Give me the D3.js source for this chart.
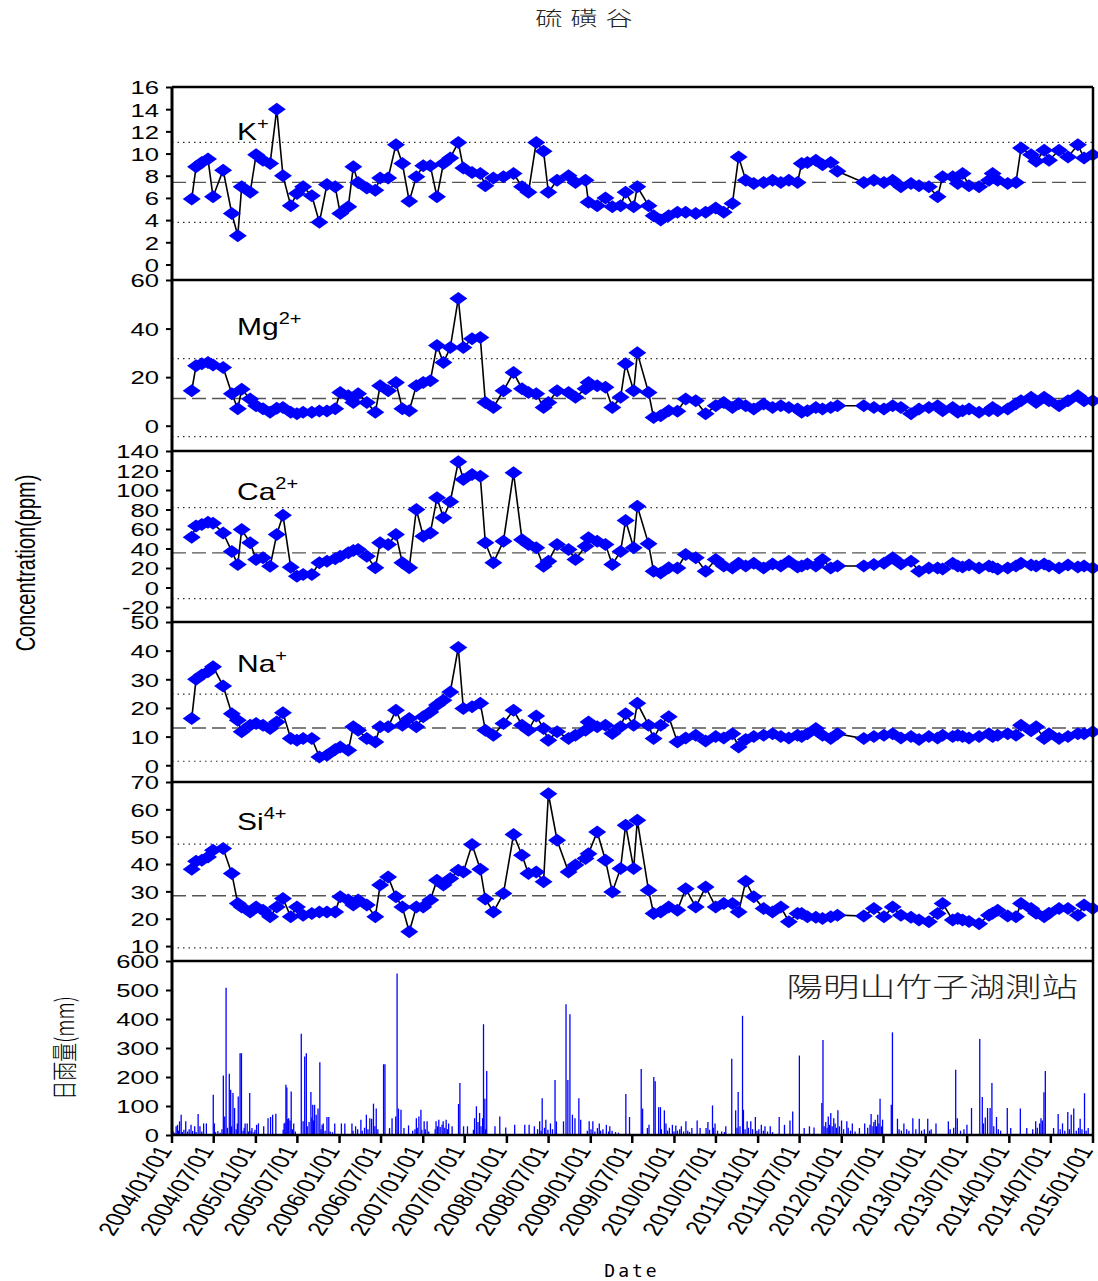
<!DOCTYPE html>
<html>
<head>
<meta charset="utf-8">
<script src="https://cdnjs.cloudflare.com/ajax/libs/d3/7.8.5/d3.min.js"></script>
<style>
  body { margin: 0; background: #fff; }
</style>
</head>
<body>
<div id="chart"></div>
<script>
// Sampling dates (same samples for every ion)
const sampleDates = [
  '2004-03-27','2004-04-15','2004-05-10','2004-06-06','2004-06-28','2004-08-11','2004-09-18','2004-10-14','2004-10-31','2004-12-07',
  '2005-01-02','2005-02-01','2005-03-04','2005-04-02','2005-04-29','2005-06-02','2005-06-29','2005-07-26','2005-09-02','2005-10-05',
  '2005-11-07','2005-12-13','2006-01-04','2006-02-08','2006-03-02','2006-03-23','2006-04-30','2006-06-06','2006-06-27','2006-08-01',
  '2006-09-04','2006-10-02','2006-11-01','2006-12-02','2007-01-01','2007-02-01','2007-03-02','2007-03-30','2007-04-29','2007-06-03',
  '2007-06-25','2007-08-02','2007-09-07','2007-09-29','2007-11-03','2007-12-17','2008-01-30','2008-03-07','2008-04-04','2008-05-08',
  '2008-06-09','2008-06-30','2008-08-07','2008-09-26','2008-10-26','2008-12-09','2008-12-22','2009-01-29','2009-03-06','2009-04-05',
  '2009-05-11','2009-06-02','2009-07-07','2009-07-23','2009-09-10','2009-10-02','2009-11-02','2009-12-07','2010-01-14','2010-02-19',
  '2010-04-04','2010-05-17','2010-06-30','2010-08-04','2010-09-11','2010-10-08','2010-11-08','2010-12-13','2011-01-25','2011-03-05',
  '2011-04-10','2011-05-15','2011-06-22','2011-07-10','2011-08-04','2011-09-10','2011-10-09','2011-11-14','2011-12-13','2012-04-06',
  '2012-05-20','2012-07-03','2012-08-10','2012-09-15','2012-10-29','2012-12-03','2013-01-15','2013-02-22','2013-03-16','2013-04-29',
  '2013-05-21','2013-06-11','2013-07-09','2013-08-22','2013-10-04','2013-10-20','2013-11-11','2013-12-25','2014-01-30','2014-02-21',
  '2014-04-06','2014-04-28','2014-06-02','2014-06-23','2014-08-06','2014-09-14','2014-10-27','2014-11-23','2014-12-31'
];

// Concentrations (ppm)
const potassium = [
  5.9,8.8,9.2,9.5,6.1,8.5,4.6,2.6,7.0,6.5, 9.9,9.4,9.1,14.0,8.0,5.3,6.4,7.0,6.2,3.8,
  7.2,7.0,4.6,5.2,8.8,7.4,6.9,6.7,7.8,7.8, 10.8,9.1,5.7,7.9,8.9,8.9,6.1,9.1,9.6,11.0,
  8.7,8.3,8.2,7.1,7.8,7.9,8.2,7.0,6.5,11.0, 10.2,6.5,7.6,8.0,7.4,7.6,5.6,5.3,6.0,5.2,
  5.3,6.5,5.2,7.0,5.3,4.4,4.0,4.4,4.7,4.7, 4.6,4.7,5.1,4.7,5.5,9.7,7.6,7.3,7.4,7.6,
  7.4,7.6,7.4,9.1,9.2,9.4,9.0,9.2,8.4,7.4, 7.6,7.4,7.6,7.0,7.3,7.1,7.0,6.1,7.9,7.9,
  7.3,8.2,7.1,7.0,7.6,8.2,7.6,7.3,7.4,10.5, 9.9,9.3,10.3,9.4,10.3,9.7,10.8,9.6,9.9
];
const magnesium = [
  14.4,24.7,25.5,26,25,24,13.2,7,15,11, 8.2,7,5.5,7.2,7.5,5.5,4.9,5.5,5.5,6.1,
  6.1,7,13.7,12.3,9.6,13.2,9.6,5.5,16.5,14.4, 17.8,7,6.2,16.5,17.8,18.5,33,26,32.2,52.4,
  32.2,35.8,36.3,9.6,7.5,14.4,21.9,15.2,13.7,13.2, 7.5,9.6,14.4,13.7,11.7,15.2,17.8,16.5,15.8,7.5,
  11.7,25.5,14.4,30,13.7,3.4,4.1,6.2,6.0,11, 10.3,4.9,8.2,9.6,7.5,9.0,8.2,6.9,8.9,7.5,
  8.2,7.5,6.9,5.5,6.2,7.5,6.9,7.5,8.2,8.2, 7.5,6.9,8.2,7.5,4.9,6.9,7.5,8.2,6.2,7.5,
  5.5,6.2,6.9,5.5,6.2,7.5,6.2,6.9,9.0,10.3, 11.7,9.6,11.7,10.3,8.2,10.3,12.3,10.3,10.3
];
const calcium = [
  51.6,63,64.6,67,66,56,37,23.6,59.5,45.8, 28.7,30.4,21.9,54.4,74.2,20.8,11.6,13.3,13.3,25.3,
  27,29.5,32,35.6,38,39,32,20.2,45.8,44, 54.4,25.3,20.2,80,52.6,56,92,71.5,88,129,
  110.8,116,114,45.8,25.3,47.5,117.6,49,44,40.7, 21.9,27,44,39,28.7,42.4,51,47.5,44,23.6,
  37,68.7,40.7,83.4,44.8,16.7,15,20.2,20,33.8, 30.4,16.7,28.7,22,20,25,22,25,20,24,
  22,27,21,22,24,22,28.7,20,22,22, 23.6,25,30.4,24,27,16.7,20,20,19,25,
  22,21,23,20,22,21,19,20,22,25, 23,22,24,22,20,23,21,22,20
];
const sodium = [
  16.3,30,31.5,32.6,34.4,27.7,18,15.7,11.7,14, 14.6,14,12.8,15.1,18.3,9.3,8.7,9.3,9.3,2.9,
  3.5,5.5,6.4,5.2,13.4,12.2,9.3,8.1,13.4,13.4, 19.2,14,16.3,13.4,16.9,18.6,21,22.7,25.6,41.1,
  19.8,20.4,21.6,12.2,10.5,14.6,19.2,14,12.2,17.2, 12.8,8.7,11.7,9.3,10.5,12.2,15.1,13.4,14,11.1,
  13.4,18,14,21.6,14,9.3,14,16.9,8.1,9.5, 10.5,8.5,10,9.5,11,6.4,9,10,10.5,11,
  10,9.5,10.5,10,11,12.8,10.5,9.3,11,9.3, 10,10.5,11,9.5,10,9,10,9.5,10.5,10,
  10.5,10,9.5,10,11,10,10.5,11,10.5,14, 12,13.4,9.3,11,9.3,10,11,11,11.7
];
const silicon = [
  38.1,41,41.4,42.6,45,45.7,36.5,25.6,24.3,22.5, 24.3,23.1,20.7,24.3,27.4,20.7,24.3,21.3,21.9,22.5,
  22.5,22.5,28,26.8,25,26.8,25,20.7,32.3,35.3, 28,24.3,15.2,24.3,24.3,26.8,34.1,32.3,34.7,37.7,
  37.1,47.1,38.1,27.2,22.5,29.2,50.8,43.2,36.5,37.1, 33.5,65.7,48.7,37.1,39.6,42,43.8,51.7,41.4,29.8,
  38.4,54.2,38.4,56,30.4,21.9,22.5,24.3,23.1,31, 24.3,31.6,24.3,25.6,25.6,22.5,33.7,28,23.7,22.5,
  24.3,18.9,21.9,21.9,20.7,20.5,20.1,20.7,21.3,21, 23.7,20.7,24.3,21.3,20.5,19.5,18.9,21.9,25.6,19.5,
  20.1,19.5,19,18.2,21.3,22,23.1,21,20.7,25.6, 23.7,22,20.7,22,23.7,23.7,21.3,25,23.7
];

// Reference lines per panel (K, Mg, Ca, Na, Si): mean (dashed), upper / lower (dotted)
const meanLines  = [7.4, 11.2, 35.5, 13.0, 28.4];
const upperLines = [11.0, 27.6, 82, 24.8, 47.3];
const lowerLines = [3.8, -4.5, -11.5, 1.4, 9.3];

// Axis ticks
const kTicks  = [0,2,4,6,8,10,12,14,16];
const mgTicks = [0,20,40,60];
const caTicks = [-20,0,20,40,60,80,100,120,140];
const naTicks = [0,10,20,30,40,50];
const siTicks = [10,20,30,40,50,60,70];
const rainTicks = [0,100,200,300,400,500,600];

// Daily rainfall at 陽明山竹子湖: [day since 2004-01-01, mm]
const rainfall = [
  [5,12],[12,8],[18,30],[24,35],[28,15],[33,47],[40,70],[45,10],[52,18],[60,47],[68,12],[75,20],[83,35],[90,14],[99,30],[105,10],[114,72],[122,30],[130,12],[138,40],[150,40],
  [180,139],[185,40],[190,10],[200,14],[210,8],[218,20],[224,205],[230,64],[236,508],[242,25],[250,211],[256,156],[260,30],[266,145],[273,93],[280,20],[285,40],[289,133],[297,282],[303,282],[310,15],[315,25],[319,40],[328,40],[333,12],[339,145],[345,15],[349,24],[358,10],[362,18],[369,35],[377,40],[400,30],[419,58],[430,62],[439,70],[453,73],
  [485,18],[489,40],[493,42],[497,173],[501,164],[505,55],[509,58],[515,50],[520,150],[525,20],[531,40],[538,12],[564,349],[572,47],[579,271],[586,282],[590,30],[598,45],[606,148],[610,60],[614,104],[618,50],[622,104],[629,70],[637,91],[645,251],[650,20],[655,35],[660,40],[668,15],[676,62],[684,62],[690,12],[700,10],[710,40],[739,40],[754,40],[785,40],[790,15],[801,30],[810,20],[824,53],[830,15],[840,25],[848,70],[855,20],[863,58],[871,56],[879,108],[885,30],[891,91],[898,20],[923,244],[929,244],[949,24],[960,58],[976,64],[982,557],[988,91],[999,87],[1012,24],[1032,33],
  [1050,15],[1060,20],[1066,58],[1070,25],[1077,64],[1086,87],[1090,18],[1100,47],[1105,20],[1113,47],[1120,12],[1148,20],[1152,47],[1158,30],[1164,53],[1170,28],[1178,35],[1183,47],[1190,25],[1196,53],[1202,20],[1207,40],[1222,30],[1250,107],[1256,179],[1272,30],[1289,30],[1315,18],[1320,58],[1328,99],[1335,45],[1342,76],[1348,30],[1355,58],[1359,382],[1365,125],[1368,20],[1373,221],[1409,30],[1430,64],[1456,26],[1495,35],[1539,35],[1558,35],[1581,30],[1595,20],[1604,47],[1610,15],[1615,127],[1625,25],[1631,53],[1640,18],[1651,40],[1660,20],[1671,190],[1677,47],[1708,47],[1719,451],[1727,190],[1736,416],[1747,70],[1758,58],[1775,127],[1783,53],
  [1812,15],[1820,47],[1828,20],[1836,47],[1845,12],[1856,24],[1864,40],[1870,15],[1880,20],[1895,35],[1905,12],[1910,30],[1920,15],[1935,10],[1948,8],[1980,141],[1996,62],[2047,228],[2053,91],[2074,24],[2081,35],[2102,200],[2108,185],[2123,96],[2131,96],[2135,20],[2148,85],[2155,40],[2162,15],[2170,25],[2183,35],[2190,12],[2198,33],[2205,15],[2215,20],[2222,30],[2232,12],[2242,47],[2250,15],[2258,10],[2268,24],[2291,50],[2304,24],[2330,24],[2338,45],[2345,18],[2358,102],[2362,25],[2369,40],[2380,15],[2398,12],[2410,10],[2416,30],
  [2442,263],[2459,85],[2465,25],[2470,148],[2478,30],[2489,411],[2493,87],[2500,20],[2509,47],[2515,25],[2525,47],[2533,20],[2545,62],[2552,15],[2560,20],[2571,35],[2580,15],[2587,30],[2598,12],[2610,30],[2620,10],[2649,62],[2672,35],[2696,50],[2708,81],[2737,274],[2758,24],[2781,30],[2801,26],[2835,110],[2840,328],[2845,30],[2852,45],[2858,25],[2863,64],[2868,35],[2874,76],[2880,30],[2887,58],[2893,40],[2899,25],[2905,85],[2912,30],[2921,50],[2930,20],[2944,47],[2950,25],[2960,15],[2968,40],[2980,12],[2999,24],
  [3022,40],[3035,25],[3045,35],[3050,72],[3058,30],[3062,45],[3068,53],[3073,30],[3079,70],[3084,40],[3089,125],[3095,30],[3100,53],[3138,104],[3143,354],[3165,56],[3172,20],[3182,15],[3193,40],[3205,20],[3215,15],[3232,58],[3245,20],[3260,56],[3270,15],[3282,20],[3297,56],[3305,15],[3312,20],[3333,40],[3387,47],[3395,20],[3410,25],[3419,225],[3426,58],[3440,15],[3455,20],[3468,35],[3488,93],[3524,331],[3535,131],[3540,40],[3548,60],[3558,93],[3569,93],[3577,179],[3585,30],[3597,62],[3605,20],[3615,15],[3644,93],[3659,24],[3701,91],[3729,24],[3755,20],[3768,47],[3775,25],[3785,40],[3791,58],[3797,50],[3804,147],[3810,221],[3846,24],[3866,72],[3875,20],[3885,40],[3895,15],[3908,79],[3915,20],[3923,70],[3934,91],[3945,15],[3955,25],[3962,56],[3970,20],[3981,144],[3988,15],[3997,24]
];

// ---- layout ----
const width = 1098, height = 1281;
const left = 172, right = 1093;
const SX = 1.35; // the original picture is stretched sideways, so its text is too
const FONT = '"Liberation Sans", Arial, sans-serif';
const CJK = '"Noto Sans CJK TC", "Noto Sans CJK SC", sans-serif';
const BLUE = '#0000ff';

const parseDate = d3.timeParse('%Y-%m-%d');
const startDate = parseDate('2004-01-01');
const endDate = parseDate('2015-01-01');
const dates = sampleDates.map(parseDate);

const x = d3.scaleTime().domain([startDate, endDate]).range([left, right]);

const svg = d3.select('#chart').append('svg')
  .attr('width', width)
  .attr('height', height)
  .style('background', '#fff');

// panels: K, Mg, Ca, Na, Si
const panels = [
  { name: 'K',  sup: '+',  values: potassium, domain: [-1.4, 16], range: [280, 87],  ticks: kTicks,  labelY: 140 },
  { name: 'Mg', sup: '2+', values: magnesium, domain: [-10, 60],  range: [450, 280], ticks: mgTicks, labelY: 335 },
  { name: 'Ca', sup: '2+', values: calcium,   domain: [-20, 140], range: [607, 451], ticks: caTicks, labelY: 500 },
  { name: 'Na', sup: '+',  values: sodium,    domain: [-5.5, 50], range: [781, 622], ticks: naTicks, labelY: 672 },
  { name: 'Si', sup: '4+', values: silicon,   domain: [4.9, 70],  range: [960, 782], ticks: siTicks, labelY: 830 }
];

function styleTicks(g) {
  g.select('.domain').remove();
  g.selectAll('.tick line').attr('stroke', '#000').attr('stroke-width', 2);
  g.selectAll('.tick text')
    .attr('x', null)
    .attr('dy', '0.36em')
    .attr('transform', `translate(-13,0) scale(${SX},1)`)
    .style('font-family', FONT)
    .style('font-size', '19px')
    .attr('fill', '#000');
}

const diamond = 'M0,-6.5L9,0L0,6.5L-9,0Z';

panels.forEach((p, i) => {
  const y = d3.scaleLinear().domain(p.domain).range(p.range);
  const g = svg.append('g');

  // dotted bounds and dashed mean
  [upperLines[i], lowerLines[i]].forEach(v => {
    g.append('line')
      .attr('x1', left).attr('x2', right)
      .attr('y1', y(v)).attr('y2', y(v))
      .attr('stroke', '#333').attr('stroke-width', 1.2)
      .attr('stroke-dasharray', '1.5,4');
  });
  g.append('line')
    .attr('x1', left).attr('x2', right)
    .attr('y1', y(meanLines[i])).attr('y2', y(meanLines[i]))
    .attr('stroke', '#555').attr('stroke-width', 1.4)
    .attr('stroke-dasharray', '14,6');

  // top border of panel
  g.append('line')
    .attr('x1', left).attr('x2', right)
    .attr('y1', p.range[1]).attr('y2', p.range[1])
    .attr('stroke', '#000').attr('stroke-width', 2.5);

  const pts = dates.map((d, k) => ({ date: d, v: p.values[k] }));

  g.append('path')
    .datum(pts)
    .attr('fill', 'none')
    .attr('stroke', '#000')
    .attr('stroke-width', 1.6)
    .attr('d', d3.line().x(d => x(d.date)).y(d => y(d.v)));

  g.selectAll('path.pt')
    .data(pts)
    .enter()
    .append('path')
    .attr('class', 'pt')
    .attr('d', diamond)
    .attr('transform', d => `translate(${x(d.date)},${y(d.v)})`)
    .attr('fill', BLUE);

  g.append('g')
    .attr('transform', `translate(${left},0)`)
    .call(d3.axisLeft(y).tickValues(p.ticks).tickSize(6).tickFormat(d => String(d)))
    .call(styleTicks);

  // ion label
  const lab = g.append('text')
    .attr('transform', `translate(237,${p.labelY}) scale(1.25,1)`)
    .style('font-family', FONT)
    .style('font-size', '24px')
    .attr('fill', '#000');
  lab.append('tspan').text(p.name);
  lab.append('tspan').attr('dy', -11).style('font-size', '16px').text(p.sup);
});

// ---- rainfall panel ----
const yRain = d3.scaleLinear().domain([0, 600]).range([1135, 961]);
const rg = svg.append('g');

rg.selectAll('line.bar')
  .data(rainfall)
  .enter()
  .append('line')
  .attr('class', 'bar')
  .attr('x1', d => x(d3.timeDay.offset(startDate, d[0])))
  .attr('x2', d => x(d3.timeDay.offset(startDate, d[0])))
  .attr('y1', yRain(0))
  .attr('y2', d => yRain(d[1]))
  .attr('stroke', BLUE)
  .attr('stroke-width', 1.3);

rg.append('line')
  .attr('x1', left).attr('x2', right)
  .attr('y1', 961).attr('y2', 961)
  .attr('stroke', '#000').attr('stroke-width', 2.5);

rg.append('g')
  .attr('transform', `translate(${left},0)`)
  .call(d3.axisLeft(yRain).tickValues(rainTicks).tickSize(6))
  .call(styleTicks);

// x axis: every six months
const xTicks = d3.timeMonth.every(6).range(startDate, d3.timeDay.offset(endDate, 1));
const xg = rg.append('g').attr('transform', `translate(0,${yRain(0)})`);
xg.append('line')
  .attr('x1', left).attr('x2', right)
  .attr('stroke', '#000').attr('stroke-width', 2.5);
xg.selectAll('line.tk')
  .data(xTicks)
  .enter()
  .append('line')
  .attr('class', 'tk')
  .attr('x1', d => x(d)).attr('x2', d => x(d))
  .attr('y1', 0).attr('y2', 8)
  .attr('stroke', '#000').attr('stroke-width', 2.5);
xg.selectAll('text')
  .data(xTicks)
  .enter()
  .append('text')
  .attr('transform', d => `translate(${x(d) + 1},15) scale(${SX},1) rotate(-63)`)
  .attr('text-anchor', 'end')
  .style('font-family', FONT)
  .style('font-size', '19.5px')
  .text(d3.timeFormat('%Y/%m/%d'));

// frame: left and right spines
svg.append('line')
  .attr('x1', left).attr('x2', left).attr('y1', 87).attr('y2', 1135)
  .attr('stroke', '#000').attr('stroke-width', 3);
svg.append('line')
  .attr('x1', right).attr('x2', right).attr('y1', 87).attr('y2', 1135)
  .attr('stroke', '#000').attr('stroke-width', 2.5);

// ---- texts ----
svg.append('text')
  .attr('transform', `translate(588,26) scale(${SX},1)`)
  .attr('text-anchor', 'middle')
  .style('font-family', CJK)
  .style('font-size', '20px')
  .style('font-weight', 300)
  .style('letter-spacing', '6px')
  .attr('fill', '#222')
  .text('硫磺谷');

svg.append('text')
  .attr('transform', `translate(35,563) scale(${SX},1) rotate(-90)`)
  .attr('text-anchor', 'middle')
  .style('font-family', FONT)
  .style('font-size', '20px')
  .text('Concentration(ppm)');

svg.append('text')
  .attr('transform', `translate(74,1048) scale(${SX},1) rotate(-90)`)
  .attr('text-anchor', 'middle')
  .style('font-family', CJK)
  .style('font-size', '19px')
  .style('font-weight', 300)
  .text('日雨量(mm)');

svg.append('text')
  .attr('transform', `translate(1078,997) scale(${SX},1)`)
  .attr('text-anchor', 'end')
  .style('font-family', CJK)
  .style('font-size', '27px')
  .style('font-weight', 300)
  .attr('fill', '#222')
  .text('陽明山竹子湖測站');

svg.append('text')
  .attr('transform', `translate(632,1277)`)
  .attr('text-anchor', 'middle')
  .style('font-family', '"DejaVu Sans Mono", monospace')
  .style('font-size', '18px')
  .style('letter-spacing', '3px')
  .text('Date');
</script>
</body>
</html>
